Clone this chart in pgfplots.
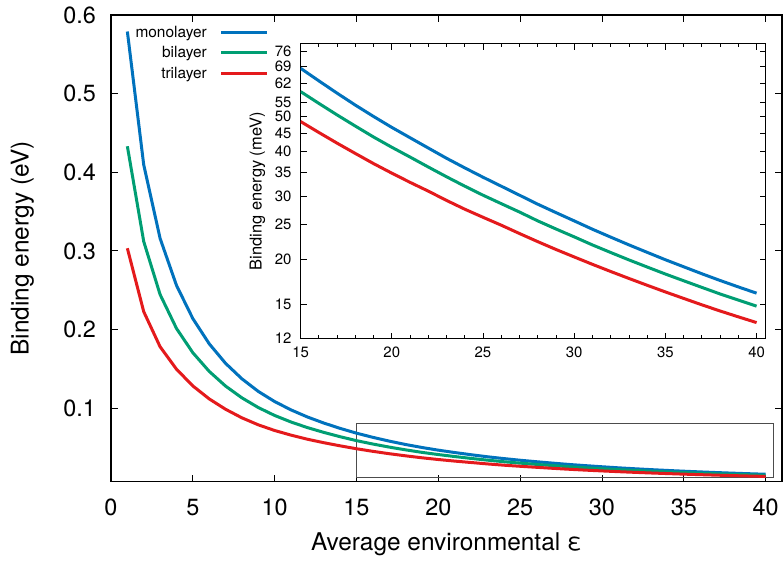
\documentclass[border=0pt]{standalone}
\usepackage{fontspec}
\setmainfont{TeX Gyre Heros}
\usepackage{pgfplots}
\pgfplotsset{compat=1.18}
\usepackage{pgfplotstable}
\usetikzlibrary{calc}
\definecolor{cmono}{RGB}{0,114,189}
\definecolor{cbi}{RGB}{0,158,115}
\definecolor{ctri}{RGB}{228,26,28}

\pgfplotstableread{
eps mono bi tri
1 0.5790 0.4331 0.3034
2 0.4095 0.3120 0.2228
3 0.3160 0.2446 0.1782
4 0.2563 0.2015 0.1497
5 0.2140 0.1706 0.1284
6 0.1820 0.1469 0.1119
7 0.1571 0.1282 0.0987
8 0.1374 0.1132 0.0878
9 0.1214 0.1009 0.0789
10 0.1085 0.0908 0.0717
11 0.0979 0.0825 0.0658
12 0.0889 0.0754 0.0606
13 0.0812 0.0693 0.0562
14 0.0744 0.0638 0.0522
15 0.0683 0.0588 0.0485
16 0.0630 0.0545 0.0452
17 0.0582 0.0506 0.0422
18 0.0539 0.0471 0.0395
19 0.0501 0.0439 0.0370
20 0.0467 0.0411 0.0348
21 0.0437 0.0386 0.0328
22 0.0409 0.0362 0.0310
23 0.0383 0.0340 0.0292
24 0.0360 0.0320 0.0276
25 0.0339 0.0302 0.0262
26 0.0320 0.0286 0.0249
27 0.0302 0.0271 0.0236
28 0.0285 0.0256 0.0224
29 0.0270 0.0243 0.0213
30 0.0256 0.0231 0.0203
31 0.02426 0.02193 0.01936
32 0.02306 0.02089 0.01849
33 0.02194 0.01992 0.01768
34 0.02091 0.01903 0.01692
35 0.01994 0.01819 0.01621
36 0.01906 0.01742 0.01555
37 0.01822 0.01669 0.01492
38 0.01745 0.01600 0.01434
39 0.01674 0.01538 0.01381
40 0.01608 0.01479 0.01331
}\datatable

\pgfplotsset{every axis/.append style={/pgf/number format/assume math mode=true}}

\begin{document}
\begin{tikzpicture}
\begin{axis}[
  name=main,
  scale only axis,
  width=671bp, height=466.7bp,
  xmin=0, xmax=41, ymin=0.0066, ymax=0.6,
  xtick={0,5,10,15,20,25,30,35,40},
  ytick={0.1,0.2,0.3,0.4,0.5,0.6},
  yticklabels={0.1,0.2,0.3,0.4,0.5,0.6},
  tick align=inside,
  major tick length=7bp,
  axis line style={line width=1.1bp},
  every tick/.style={black, line width=0.9bp},
  tick label style={font=\fontsize{23.5}{27}\selectfont},
  xticklabel style={anchor=base, inner sep=0pt, yshift=-33.3bp},
  yticklabel style={anchor=east, inner sep=0pt, xshift=-15bp},
  label style={font=\fontsize{24.5}{28}\selectfont},
  xlabel={Average environmental ε},
  xlabel style={at={(axis description cs:0.5,0)}, anchor=base, yshift=-68.3bp},
  ylabel={Binding energy (eV)},
  ylabel style={at={(axis description cs:-0.1319,0.5)}, anchor=center},
  legend style={draw=none, fill=none, inner sep=0pt,
    at={(axis description cs:0.2355,0.9814)}, anchor=north east,
    font=\fontsize{15.5}{18}\selectfont, row sep=3.8bp,
    /tikz/every odd column/.append style={column sep=11bp}},
  legend cell align=right,
  legend plot pos=right,
  legend image code/.code={\draw[#1] (0bp,0bp) -- (46bp,0bp);},
]
\addplot[black!70, line width=1bp, forget plot] coordinates {(15,0.012) (40.5,0.012) (40.5,0.080) (15,0.080) (15,0.012)};
\addplot[cmono, line width=3bp] table[x=eps, y=mono] {\datatable};
\addlegendentry{monolayer}
\addplot[cbi, line width=3bp] table[x=eps, y=bi] {\datatable};
\addlegendentry{bilayer}
\addplot[ctri, line width=3bp] table[x=eps, y=tri] {\datatable};
\addlegendentry{trilayer}
\end{axis}

\begin{axis}[
  at={($(main.south west)+(189.6bp,143bp)$)}, anchor=south west,
  scale only axis,
  width=465.1bp, height=295bp,
  xmin=15, xmax=40.5,
  ymode=log, ymin=12, ymax=80,
  xtick={15,20,25,30,35,40},
  minor x tick num=4,
  ytick={12,15,20,25,30,35,40,45,50,55,62,69,76},
  yticklabels={12,15,20,25,30,35,40,45,50,55,62,69,76},
  yminorticks=false,
  tick align=inside,
  major tick length=6bp, minor tick length=3.5bp,
  axis line style={line width=1.1bp},
  every tick/.style={black, line width=0.8bp},
  axis background/.style={fill=white},
  tick label style={font=\fontsize{15}{18}\selectfont},
  xticklabel style={anchor=base, inner sep=0pt, yshift=-18.6bp},
  yticklabel style={anchor=east, inner sep=0pt, xshift=-9bp},
  ylabel={Binding energy (meV)},
  ylabel style={font=\fontsize{16.5}{19}\selectfont, at={(axis description cs:-0.0927,0.5)}, anchor=center},
]
\addplot[cmono, line width=3bp, restrict x to domain=15:40] table[x=eps, y expr=\thisrow{mono}*1000] {\datatable};
\addplot[cbi, line width=3bp, restrict x to domain=15:40] table[x=eps, y expr=\thisrow{bi}*1000] {\datatable};
\addplot[ctri, line width=3bp, restrict x to domain=15:40] table[x=eps, y expr=\thisrow{tri}*1000] {\datatable};
\end{axis}

\pgfresetboundingbox
\path ($(main.south west)+(-111bp,-81.3bp)$) rectangle ($(main.north east)+(1bp,15bp)$);
\end{tikzpicture}
\end{document}
